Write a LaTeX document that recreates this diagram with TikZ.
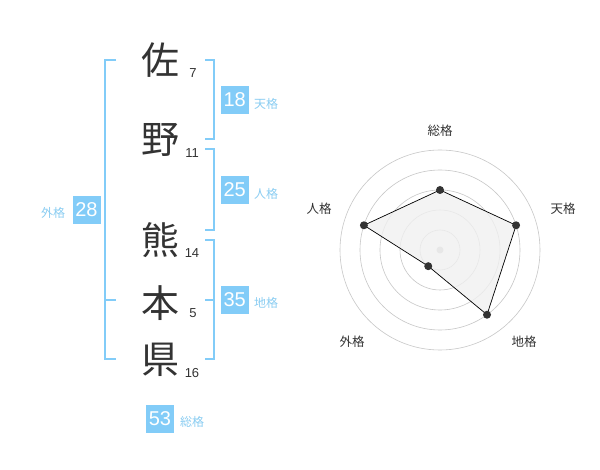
\documentclass[tikz,border=0pt]{standalone}
\usepackage{fontspec}
\usetikzlibrary{calc}
\setmainfont{Liberation Sans}
\newfontfamily\cjk{Noto Sans CJK JP}
\definecolor{kblue}{HTML}{82CCF8}
\definecolor{ktext}{HTML}{333333}
\definecolor{klabel}{HTML}{8ACDF2}
\begin{document}
\begin{tikzpicture}[x=1pt,y=-1pt,
  kanji/.style={text=ktext,font=\cjk\fontsize{38}{38}\selectfont,inner sep=0pt},
  strokes/.style={text=ktext,font=\fontsize{13}{13}\selectfont,inner sep=0pt},
  valbox/.style={fill=kblue,text=white,minimum width=28pt,minimum height=28pt,inner sep=0pt,font=\fontsize{20}{20}\selectfont},
  kakulabel/.style={text=klabel,font=\cjk\fontsize{12}{12}\selectfont,inner sep=0pt},
  bracket/.style={draw=kblue,line width=2pt},
  ring/.style={draw=black!22,line width=0.6pt},
  radlabel/.style={text=ktext,font=\cjk\fontsize{12.5}{12.5}\selectfont,inner sep=0pt},
  dot/.style={circle,fill=ktext,inner sep=0pt,minimum size=8pt}]
\useasboundingbox (0,0) rectangle (600,470);
\fill[white] (0,0) rectangle (600,470);
% kanji
\node[kanji] (k1) at (160,60) {佐};
\node[kanji] (k2) at (160,140) {野};
\node[kanji] (k3) at (160,240) {熊};
\node[kanji] (k4) at (160,303) {本};
\node[kanji] (k5) at (160,360) {県};
\node[strokes] (s1) at (193,73) {7};
\node[strokes] (s2) at (192,153) {11};
\node[strokes] (s3) at (192,253) {14};
\node[strokes] (s4) at (193,313) {5};
\node[strokes] (s5) at (192,373) {16};
% brackets
\draw[bracket] (116,60) -- (105,60) -- (105,359) -- (116,359);
\draw[bracket] (105,300) -- (116,300);
\draw[bracket] (205,60) -- (214,60) -- (214,139) -- (205,139);
\draw[bracket] (205,149) -- (214,149) -- (214,230) -- (205,230);
\draw[bracket] (205,240) -- (214,240) -- (214,359) -- (205,359);
\draw[bracket] (205,300) -- (214,300);
% value boxes
\node[valbox] (b1) at (86.5,210) {28};
\node[kakulabel] (l1) at (53,213) {外格};
\node[valbox] (b2) at (234.7,100) {18};
\node[kakulabel] (l2) at (266,104) {天格};
\node[valbox] (b3) at (234.7,190) {25};
\node[kakulabel] (l3) at (266,194) {人格};
\node[valbox] (b4) at (234.7,300) {35};
\node[kakulabel] (l4) at (266,303) {地格};
\node[valbox] (b5) at (160,419) {53};
\node[kakulabel] (l5) at (192,422) {総格};
% radar
\coordinate (c) at (440,250);
\foreach \r in {20,40,60,80,100} \draw[ring] (c) circle[radius=\r];
\fill[black!22] (c) circle[radius=3.5];
\coordinate (p1) at ($(c)+(0,-60)$);
\coordinate (p2) at ($(c)+({80*cos(18)},{-80*sin(18)})$);
\coordinate (p3) at ($(c)+({80*cos(54)},{80*sin(54)})$);
\coordinate (p4) at ($(c)+({-20*cos(54)},{20*sin(54)})$);
\coordinate (p5) at ($(c)+({-80*cos(18)},{-80*sin(18)})$);
\filldraw[fill=black!6,fill opacity=0.8,draw=black,line width=0.7pt] (p1) -- (p2) -- (p3) -- (p4) -- (p5) -- cycle;
\foreach \p in {p1,p2,p3,p4,p5} \node[dot] at (\p) {};
\node[radlabel] (r1) at (440,131) {総格};
\node[radlabel] (r2) at (563,209) {天格};
\node[radlabel] (r3) at (524,342) {地格};
\node[radlabel] (r4) at (352,342) {外格};
\node[radlabel] (r5) at (319,209) {人格};
\end{tikzpicture}
\end{document}
